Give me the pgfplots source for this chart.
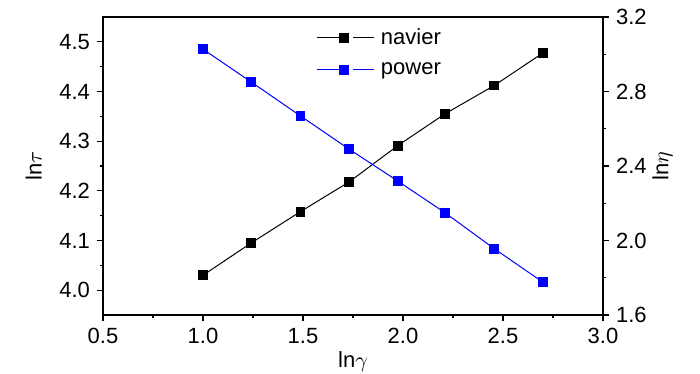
\documentclass[border=0pt]{standalone}
\usepackage{fontspec}
\setmainfont{Liberation Sans}
\usepackage{pgfplots}
\pgfplotsset{compat=1.18}
\pgfplotstableread{
x y
1.000 4.030
1.241 4.095
1.487 4.158
1.731 4.218
1.974 4.291
2.210 4.355
2.456 4.412
2.701 4.478
}\navier
\pgfplotstableread{
x y
1.000 3.027
1.241 2.851
1.487 2.669
1.731 2.490
1.974 2.319
2.210 2.149
2.456 1.956
2.701 1.775
}\power
\begin{document}
\begin{tikzpicture}
\pgfplotsset{
  common/.style={
    scale only axis, width=250pt, height=149pt,
    xmin=0.5, xmax=3.0,
    /pgf/number format/assume math mode=true,
    tick label style={font=\fontsize{11}{13}\selectfont},
    label style={font=\fontsize{11}{13}\selectfont},
    tick align=outside,
    major tick length=3pt, minor tick length=1.6pt,
    every tick/.style={black, line width=0.6pt},
    axis line style={line width=0.9pt},
    minor tick num=1,
    legend image code/.code={%
      \draw (0cm,0cm) -- (0.4cm,0cm);
      \draw (0.64cm,0cm) -- (1.0cm,0cm);
      \draw plot coordinates {(0.48cm,0cm)};
      \path (1.05cm,0cm);},
  }
}
\begin{axis}[common,
  ymin=3.95, ymax=4.55,
  xtick={0.5,1.0,...,3.0},
  ytick={4.0,4.1,...,4.5},
  xtick pos=lower, ytick pos=left,
  xticklabel style={/pgf/number format/.cd, fixed, fixed zerofill, precision=1},
  yticklabel style={/pgf/number format/.cd, fixed, fixed zerofill, precision=1},
  xlabel={ln$\gamma$}, ylabel={ln$\tau$},
  xlabel style={yshift=3pt},
  ylabel style={yshift=2pt},
]
\coordinate (sw) at (rel axis cs:0,0);
\coordinate (ne) at (rel axis cs:1,1);
\addplot[black, line width=0.5pt, mark=square*, mark size=2.2pt] table {\navier};
\end{axis}
\begin{axis}[common,
  ymin=1.6, ymax=3.2,
  axis x line=none,
  axis y line*=right,
  ytick={1.6,2.0,...,3.2},
  yticklabel style={/pgf/number format/.cd, fixed, fixed zerofill, precision=1},
  ylabel={ln$\eta$},
  ylabel style={yshift=4pt},
  legend style={draw=none, fill=none, at={(0.555,0.99)}, anchor=north, font=\fontsize{11}{13}\selectfont, row sep=3.5pt},
  legend cell align=left,
]
\addlegendimage{black, line width=0.5pt, mark=square*, mark size=2.2pt}
\addlegendentry{navier}
\addplot[blue, line width=0.5pt, mark=square*, mark size=2.2pt] table {\power};
\addlegendentry{power}
\end{axis}
\pgfresetboundingbox
\path ([shift={(-51.5pt,-29.5pt)}]sw) rectangle ([shift={(48.5pt,8.5pt)}]ne);
\end{tikzpicture}
\end{document}
